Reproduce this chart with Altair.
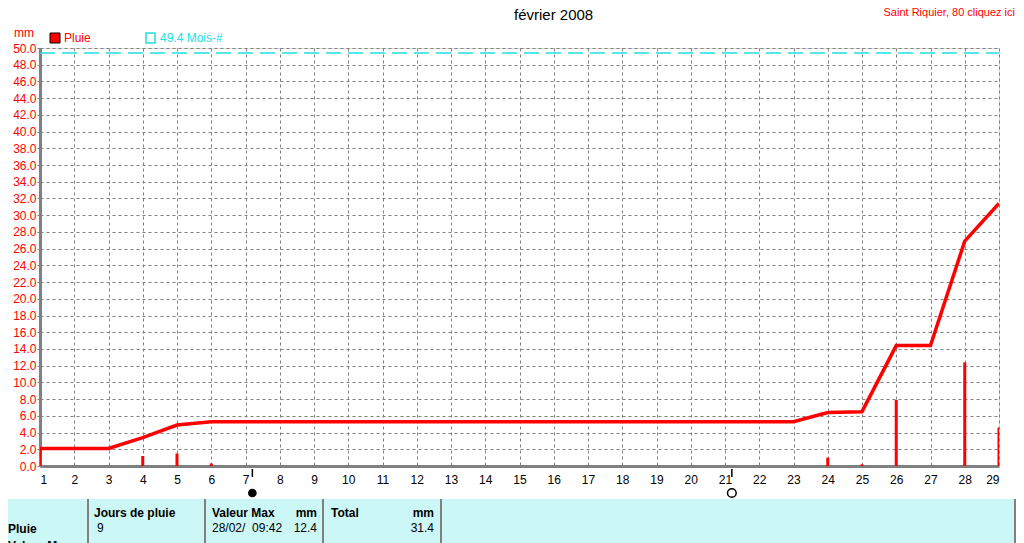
import altair as alt
import pandas as pd

# ---- data ----
days = list(range(1, 30))
cumul = [2.1, 2.1, 2.1, 3.4, 4.9, 5.3, 5.3, 5.3, 5.3, 5.3,
         5.3, 5.3, 5.3, 5.3, 5.3, 5.3, 5.3, 5.3, 5.3, 5.3,
         5.3, 5.3, 5.3, 6.4, 6.5, 14.4, 14.4, 26.9, 31.4]
rain_days = [1, 4, 5, 6, 24, 25, 26, 28, 29]
rain_vals = [2.1, 1.2, 1.5, 0.3, 1.0, 0.2, 7.9, 12.4, 4.6]
moon_days = [7.2, 21.2]
moon_filled = [True, False]
month_ref = 49.4
y_ticks = [i * 2 for i in range(26)]

title_txt = "février 2008"
station_txt = "Saint Riquier, 80 cliquez ici"
legend_rain = "Pluie"
legend_ref = "49.4 Mois-#"
unit_txt = "mm"
tbl_row = "Pluie"
tbl_row2 = "Valeur Max"
tbl_h1 = "Jours de pluie"
tbl_v1 = "9"
tbl_h2 = "Valeur Max"
tbl_h2u = "mm"
tbl_v2a = "28/02/\u00a0 09:42"
tbl_v2b = "12.4"
tbl_h3 = "Total"
tbl_h3u = "mm"
tbl_v3 = "31.4"

FONT = "Liberation Sans"
RED = "#ff0000"
CYAN = "#20e0e0"
GRAY = "#808080"

line_df = pd.DataFrame({"day": days, "mm": cumul})
bar_df = pd.DataFrame({"day": rain_days, "mm": rain_vals})
moon_df = pd.DataFrame({"day": moon_days, "filled": moon_filled})
ref_df = pd.DataFrame({"mm": [month_ref]})
one = pd.DataFrame({"k": [0]})

xs = alt.Scale(domain=[1, 29], nice=False, zero=False, padding=0)
ys = alt.Scale(domain=[0, 50], nice=False, padding=0)

x_axis = alt.Axis(values=days, title=None, labelColor="black", labelFontSize=12,
                  labelFont=FONT, tickSize=0, labelPadding=8, domainColor=GRAY,
                  domainWidth=3, grid=True, gridColor=GRAY, gridDash=[3, 3],
                  gridWidth=1, labelAngle=0)
y_axis = alt.Axis(values=y_ticks, format=".1f", title=None, labelColor=RED,
                  labelFontSize=12, labelFont=FONT, tickSize=3, tickColor=GRAY,
                  labelPadding=1, domainColor=GRAY, domainWidth=3, grid=True,
                  gridColor=GRAY, gridDash=[3, 3], gridWidth=1)

ref_line = alt.Chart(ref_df).mark_rule(color=CYAN, strokeWidth=1.5, strokeDash=[15, 7]).encode(
    y=alt.Y("mm:Q", scale=ys, axis=y_axis),
    x=alt.value(0), x2=alt.value(959))

line = alt.Chart(line_df).mark_line(color=RED, strokeWidth=3.5, clip=True).encode(
    x=alt.X("day:Q", scale=xs, axis=x_axis),
    y=alt.Y("mm:Q", scale=ys, axis=y_axis))

bars = alt.Chart(bar_df).mark_bar(color=RED, size=3, clip=True).encode(
    x=alt.X("day:Q", scale=xs, axis=x_axis),
    y=alt.Y("mm:Q", scale=ys, axis=y_axis))

moon_tick = alt.Chart(moon_df).mark_rule(color="black", strokeWidth=1.5).encode(
    x=alt.X("day:Q", scale=xs, axis=x_axis),
    y=alt.value(421), y2=alt.value(429))

moon_full = alt.Chart(moon_df[moon_df["filled"]]).mark_point(
    shape="circle", filled=True, color="black", size=75, opacity=1).encode(
    x=alt.X("day:Q", scale=xs, axis=x_axis), y=alt.value(445))
moon_empty = alt.Chart(moon_df[~moon_df["filled"]]).mark_point(
    shape="circle", filled=False, color="black", size=75, strokeWidth=1.5, opacity=1).encode(
    x=alt.X("day:Q", scale=xs, axis=x_axis), y=alt.value(445))


def txt(t, x, y, size=12, color="black", align="left", weight="normal"):
    return alt.Chart(one).mark_text(text=t, font=FONT, fontSize=size, color=color,
                                    align=align, baseline="middle", fontWeight=weight).encode(
        x=alt.value(x), y=alt.value(y))


def box(x, x2, y, y2, fill, stroke=None, sw=1):
    kw = dict(fill=fill)
    if stroke:
        kw.update(stroke=stroke, strokeWidth=sw)
    return alt.Chart(one).mark_rect(**kw).encode(
        x=alt.value(x), x2=alt.value(x2), y=alt.value(y), y2=alt.value(y2))


def vline(x, y, y2, color=GRAY, w=2):
    return alt.Chart(one).mark_rule(color=color, strokeWidth=w).encode(
        x=alt.value(x), y=alt.value(y), y2=alt.value(y2))


deco = [
    txt(title_txt, 474, -33, size=15),
    txt(station_txt, 975, -35, size=11, color=RED, align="right"),
    txt(unit_txt, -26, -15, size=12, color=RED),
    box(10, 20, -15, -5, RED, stroke="black", sw=1),
    txt(legend_rain, 24, -10, size=12, color=RED),
    box(106, 115, -15, -5, "white", stroke=CYAN, sw=1.5),
    txt(legend_ref, 120, -10, size=12, color=CYAN),
    # table
    box(-32, 976, 451, 500, "#ccf7f7"),
    vline(48, 451, 500),
    vline(165, 451, 500),
    vline(283, 451, 500),
    vline(401, 451, 500),
    vline(975, 451, 500),
    txt(tbl_h1, 54, 465, weight="bold"),
    txt(tbl_v1, 57, 480),
    txt(tbl_row, -32, 481, weight="bold"),
    txt(tbl_row2, -32, 498, weight="bold"),
    txt(tbl_h2, 172, 465, weight="bold"),
    txt(tbl_h2u, 277, 465, align="right", weight="bold"),
    txt(tbl_v2a, 172, 480),
    txt(tbl_v2b, 277, 480, align="right"),
    txt(tbl_h3, 291, 465, weight="bold"),
    txt(tbl_h3u, 394, 465, align="right", weight="bold"),
    txt(tbl_v3, 394, 480, align="right"),
]

chart = alt.layer(ref_line, bars, line, moon_tick, moon_full, moon_empty, *deco).properties(
    width=959, height=418,
    autosize=alt.AutoSizeParams(type="none"),
    padding={"left": 32, "top": 40, "right": 17, "bottom": 77},
).configure_view(stroke=GRAY, strokeWidth=2).configure(background="white")

chart.save("out.html", embed_options={"renderer": "svg", "actions": False})
